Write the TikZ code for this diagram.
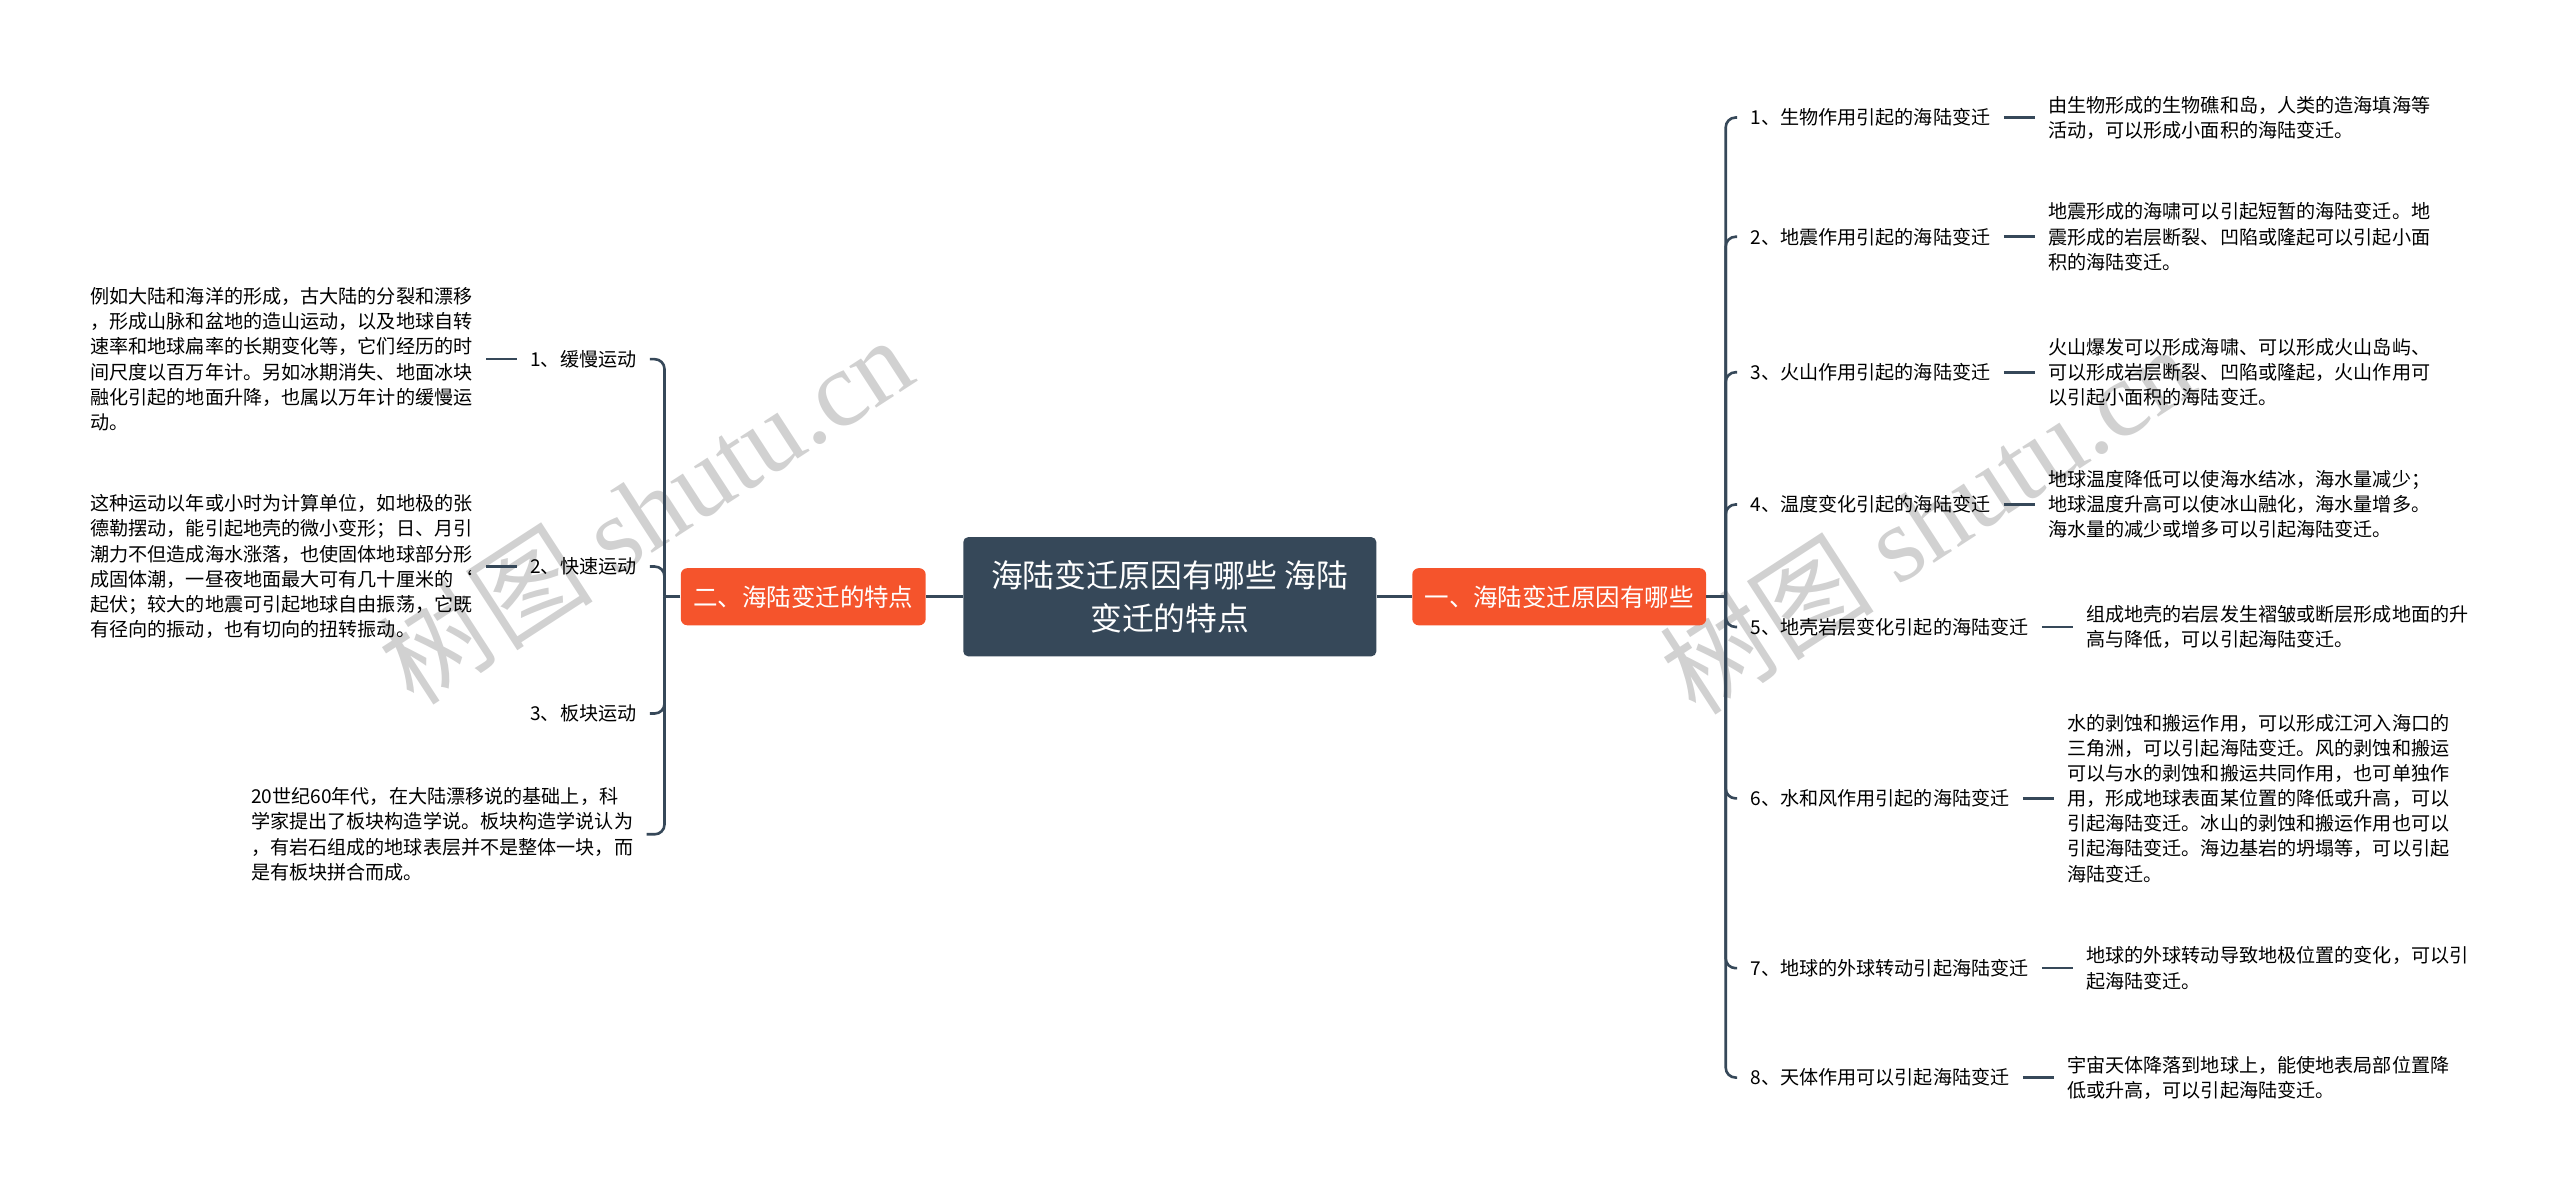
\documentclass[tikz,border=0pt]{standalone}
\usepackage{fontspec}
\setmainfont{Noto Sans CJK SC}
\newfontfamily\wmfont{Liberation Serif}
\usetikzlibrary{positioning}
\definecolor{slate}{RGB}{54,72,89}
\definecolor{flame}{RGB}{245,84,44}
\tikzset{
    map diagram/.style = {x=1pt, y=-1pt},
    line/.style        = {draw=slate, line width=1.6pt, rounded corners=6pt},
    root/.style        = {fill=slate, text=white, rounded corners=3pt,
                          align=center, font=\fontsize{19.5}{26}\selectfont,
                          minimum width=253pt, minimum height=73pt},
    topic/.style       = {fill=flame, text=white, rounded corners=4pt,
                          font=\fontsize{15}{18}\selectfont,
                          inner xsep=7.5pt, minimum height=35pt},
    item/.style        = {font=\fontsize{11.7}{15.4}\selectfont,
                          inner xsep=8pt, inner ysep=2pt},
    note/.style        = {item, align=left},
    watermark/.style   = {text=black!18, font=\fontsize{66}{66}\selectfont,
                          rotate=33}
}

\begin{document}
\begin{tikzpicture}[map diagram]
\useasboundingbox (0,0) rectangle (1568,731);

% ================= Watermarks =================
\node[watermark] (wm1) at (395,312) {树图 {\wmfont shutu.cn}};
\node[watermark] (wm2) at (1180,318) {树图 {\wmfont shutu.cn}};

% ================= Root and topics =================
\node[root]  (root)  at (716.5,365.5) {海陆变迁原因有哪些 海陆\\变迁的特点};
\node[topic] (right) at (955,365.5) {一、海陆变迁原因有哪些};
\node[topic] (left)  at (492,365.5) {二、海陆变迁的特点};

\coordinate (hubR) at (1057,365.5);
\coordinate (hubL) at (407,365.5);

\draw[line] (root) -- (right);
\draw[line] (left) -- (root);
\draw[line] (right) -- (hubR);
\draw[line] (left) -- (hubL);

% ================= Causes (right side) =================
\node[item, anchor=west] (r1) at (1064,72)  {1、生物作用引起的海陆变迁};
\node[item, anchor=west] (r2) at (1064,145) {2、地震作用引起的海陆变迁};
\node[item, anchor=west] (r3) at (1064,228) {3、火山作用引起的海陆变迁};
\node[item, anchor=west] (r4) at (1064,309) {4、温度变化引起的海陆变迁};
\node[item, anchor=west] (r5) at (1064,384) {5、地壳岩层变化引起的海陆变迁};
\node[item, anchor=west] (r6) at (1064,489) {6、水和风作用引起的海陆变迁};
\node[item, anchor=west] (r7) at (1064,593) {7、地球的外球转动引起海陆变迁};
\node[item, anchor=west] (r8) at (1064,660) {8、天体作用可以引起海陆变迁};

\node[note, right=19pt of r1] (r1n) {由生物形成的生物礁和岛，人类的造海填海等\\活动，可以形成小面积的海陆变迁。};
\node[note, right=19pt of r2] (r2n) {地震形成的海啸可以引起短暂的海陆变迁。地\\震形成的岩层断裂、凹陷或隆起可以引起小面\\积的海陆变迁。};
\node[note, right=19pt of r3] (r3n) {火山爆发可以形成海啸、可以形成火山岛屿、\\可以形成岩层断裂、凹陷或隆起，火山作用可\\以引起小面积的海陆变迁。};
\node[note, right=19pt of r4] (r4n) {地球温度降低可以使海水结冰，海水量减少；\\地球温度升高可以使冰山融化，海水量增多。\\海水量的减少或增多可以引起海陆变迁。};
\node[note, right=19pt of r5] (r5n) {组成地壳的岩层发生褶皱或断层形成地面的升\\高与降低，可以引起海陆变迁。};
\node[note, right=19pt of r6] (r6n) {水的剥蚀和搬运作用，可以形成江河入海口的\\三角洲，可以引起海陆变迁。风的剥蚀和搬运\\可以与水的剥蚀和搬运共同作用，也可单独作\\用，形成地球表面某位置的降低或升高，可以\\引起海陆变迁。冰山的剥蚀和搬运作用也可以\\引起海陆变迁。海边基岩的坍塌等，可以引起\\海陆变迁。};
\node[note, right=19pt of r7] (r7n) {地球的外球转动导致地极位置的变化，可以引\\起海陆变迁。};
\node[note, right=19pt of r8] (r8n) {宇宙天体降落到地球上，能使地表局部位置降\\低或升高，可以引起海陆变迁。};

\foreach \i in {1,...,8} {
    \draw[line] (hubR) |- (r\i.west);
    \draw[line] (r\i) -- (r\i n);
}

% ================= Features (left side) =================
\node[item, anchor=east] (l1) at (398,220) {1、缓慢运动};
\node[item, anchor=east] (l2) at (398,347) {2、快速运动};
\node[item, anchor=east] (l3) at (398,437) {3、板块运动};

\node[note, left=19pt of l1] (l1n) {例如大陆和海洋的形成，古大陆的分裂和漂移\\，形成山脉和盆地的造山运动，以及地球自转\\速率和地球扁率的长期变化等，它们经历的时\\间尺度以百万年计。另如冰期消失、地面冰块\\融化引起的地面升降，也属以万年计的缓慢运\\动。};
\node[note, left=19pt of l2] (l2n) {这种运动以年或小时为计算单位，如地极的张\\德勒摆动，能引起地壳的微小变形；日、月引\\潮力不但造成海水涨落，也使固体地球部分形\\成固体潮，一昼夜地面最大可有几十厘米的{\char"60}\\起伏；较大的地震可引起地球自由振荡，它既\\有径向的振动，也有切向的扭转振动。};
\node[note, anchor=east] (l3n) at (396,511) {20世纪60年代，在大陆漂移说的基础上，科\\学家提出了板块构造学说。板块构造学说认为\\，有岩石组成的地球表层并不是整体一块，而\\是有板块拼合而成。};

\foreach \i in {1,2,3} {
    \draw[line] (hubL) |- (l\i.east);
}
\draw[line] (l1) -- (l1n);
\draw[line] (l2) -- (l2n);
\draw[line] (hubL) |- (l3n.east);

\end{tikzpicture}
\end{document}
